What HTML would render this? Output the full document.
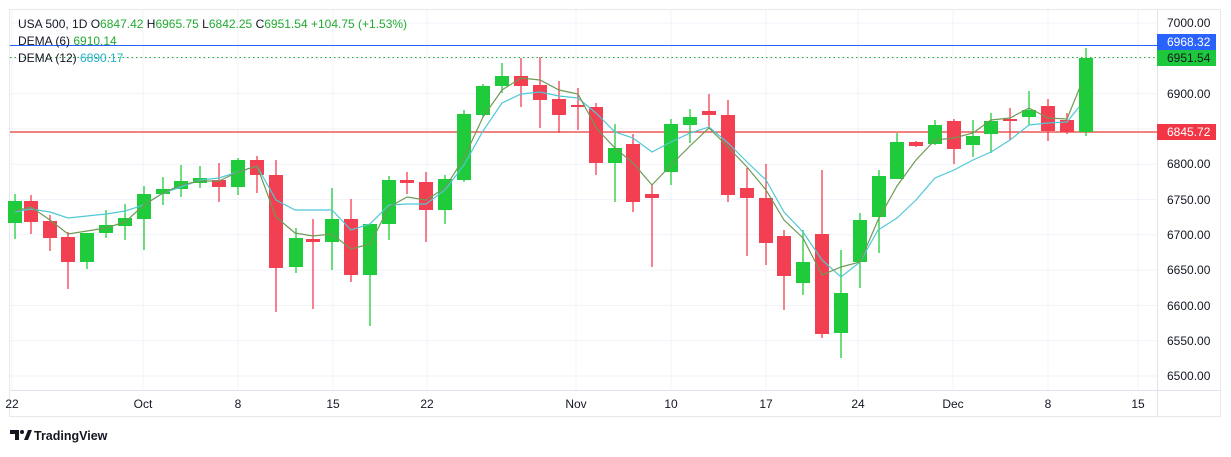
<!DOCTYPE html>
<html><head><meta charset="utf-8"><style>
body{margin:0;background:#fff;font-family:"Liberation Sans",sans-serif;}
svg text{font-family:"Liberation Sans",sans-serif;}
</style></head><body>
<svg width="1231" height="452" xmlns="http://www.w3.org/2000/svg">
<rect x="0" y="0" width="1231" height="452" fill="#fff"/>
<rect x="9.5" y="9.5" width="1211" height="407" fill="none" stroke="#e6e8ee"/>
<g stroke="#f0f3fa" stroke-width="1">
<line x1="10" x2="1157" y1="23" y2="23"/><line x1="10" x2="1157" y1="58.3" y2="58.3"/><line x1="10" x2="1157" y1="93.6" y2="93.6"/><line x1="10" x2="1157" y1="128.9" y2="128.9"/><line x1="10" x2="1157" y1="164.2" y2="164.2"/><line x1="10" x2="1157" y1="199.5" y2="199.5"/><line x1="10" x2="1157" y1="234.8" y2="234.8"/><line x1="10" x2="1157" y1="270.1" y2="270.1"/><line x1="10" x2="1157" y1="305.4" y2="305.4"/><line x1="10" x2="1157" y1="340.7" y2="340.7"/><line x1="10" x2="1157" y1="376" y2="376"/>
<line x1="12" x2="12" y1="10" y2="390"/><line x1="143" x2="143" y1="10" y2="390"/><line x1="238" x2="238" y1="10" y2="390"/><line x1="333" x2="333" y1="10" y2="390"/><line x1="427" x2="427" y1="10" y2="390"/><line x1="576" x2="576" y1="10" y2="390"/><line x1="671" x2="671" y1="10" y2="390"/><line x1="766" x2="766" y1="10" y2="390"/><line x1="858" x2="858" y1="10" y2="390"/><line x1="953" x2="953" y1="10" y2="390"/><line x1="1048" x2="1048" y1="10" y2="390"/><line x1="1138" x2="1138" y1="10" y2="390"/>
</g>
<line x1="10" x2="1221" y1="390.5" y2="390.5" stroke="#e0e3eb"/>
<line x1="1157.5" x2="1157.5" y1="10" y2="417" stroke="#e0e3eb"/>
<line x1="10" x2="1157" y1="45.5" y2="45.5" stroke="#2962ff" shape-rendering="crispEdges"/>
<line x1="10" x2="1157" y1="57.5" y2="57.5" stroke="#22ab30" stroke-dasharray="1.5 3"/>
<line x1="10" x2="1157" y1="132" y2="132" stroke="#e53935" stroke-width="1.2"/>
<g id="c"></g>
<polyline fill="none" stroke="#4fc8d6" stroke-width="1.2" points="15,212 31,209 50,212 68,218 87,216 106,214 125,211 144,205 163,193 181,187 200,180 219,178 238,172 257,166 276,200 295,210 313,210 332,210 351,230 370,224 389,205 407,204 426,204 445,190 464,165 483,131 502,103 521,94 540,92 559,96 578,98 597,114 615,132 633,138 652,152 671,142 690,133 709,127 728,143 747,162 766,180 784,212 803,232 822,260 841,277 860,262 878,230 897,218 916,200 935,178 954,170 973,160 991,152 1010,140 1029,125 1048,123 1067,122 1079,107"/>
<polyline fill="none" stroke="#6f9a55" stroke-width="1.2" points="15,211 31,207 50,220 68,234 87,231 106,228 125,222 144,205 163,193 181,185 200,181 219,181 238,172 257,166 276,217 295,233 313,236 332,234 351,249 370,244 389,207 407,197 426,200 445,188 464,158 483,117 502,90 521,78 540,80 559,90 578,94 597,129 615,148 633,163 652,185 671,165 690,146 709,128 728,147 747,167 766,190 784,220 803,238 822,275 841,267 860,262 878,220 897,186 916,160 935,140 954,138 973,133 991,120 1010,118 1029,108 1048,118 1067,119 1080,87"/>
<g font-size="12" fill="#131722">
<text x="12" y="408" text-anchor="middle">22</text><text x="143" y="408" text-anchor="middle">Oct</text><text x="238" y="408" text-anchor="middle">8</text><text x="333" y="408" text-anchor="middle">15</text><text x="427" y="408" text-anchor="middle">22</text><text x="576" y="408" text-anchor="middle">Nov</text><text x="671" y="408" text-anchor="middle">10</text><text x="766" y="408" text-anchor="middle">17</text><text x="858" y="408" text-anchor="middle">24</text><text x="953" y="408" text-anchor="middle">Dec</text><text x="1048" y="408" text-anchor="middle">8</text><text x="1138" y="408" text-anchor="middle">15</text>
<text x="1167" y="27">7000.00</text><text x="1167" y="98">6900.00</text><text x="1167" y="168">6800.00</text><text x="1167" y="204">6750.00</text><text x="1167" y="239">6700.00</text><text x="1167" y="274">6650.00</text><text x="1167" y="310">6600.00</text><text x="1167" y="345">6550.00</text><text x="1167" y="380">6500.00</text>
</g>
<rect x="1157" y="34" width="59" height="16" fill="#2962ff"/><text x="1167" y="46" font-size="12" fill="#fff">6968.32</text>
<rect x="1157" y="50" width="59" height="16" fill="#1ec83c"/><text x="1167" y="62" font-size="12" fill="#131722">6951.54</text>
<rect x="1157" y="124" width="59" height="16" fill="#f23645"/><text x="1167" y="136" font-size="12" fill="#fff">6845.72</text>
<text x="18" y="28" font-size="12" fill="#131722">USA 500, 1D  O<tspan fill="#22ab30">6847.42</tspan>  H<tspan fill="#22ab30">6965.75</tspan>  L<tspan fill="#22ab30">6842.25</tspan>  C<tspan fill="#22ab30">6951.54</tspan>  <tspan fill="#22ab30">+104.75 (+1.53%)</tspan></text>
<text x="18" y="45" font-size="12" fill="#131722">DEMA (6)  <tspan fill="#22ab30">6910.14</tspan></text>
<text x="18" y="62" font-size="12" fill="#131722">DEMA (12)  <tspan fill="#26b3c9">6890.17</tspan></text>
<g fill="#131722"><path d="M10 430h9v10h-4v-6h-5z"/><circle cx="22" cy="432" r="2"/><path d="M24 440l4-10h4l-4 10z"/></g>
<text x="34" y="440" font-size="12.5" font-weight="bold" fill="#131722">TradingView</text>
</svg>
<script>
var d=[[15,'g',201,223,194,239],[31,'r',201,222,195,234],[50,'r',221,238,215,251],[68,'r',237,262,232,289],[87,'g',233,262,233,269],[106,'g',225,233,210,238],[125,'g',218,226,204,240],[144,'g',194,219,186,250],[163,'g',189,194,177,205],[181,'g',181,189,165,197],[200,'g',178,183,166,188],[219,'r',180,187,163,202],[238,'g',160,187,158,195],[257,'r',160,175,156,193],[276,'r',175,268,160,312],[296,'g',238,267,228,273],[313,'r',239,242,219,309],[332,'g',219,242,188,270],[351,'r',219,275,199,282],[370,'g',224,275,225,326],[389,'g',180,224,176,240],[407,'r',180,183,172,194],[426,'r',182,210,172,242],[445,'g',179,210,175,224],[464,'g',114,180,110,182],[483,'g',86,115,84,117],[502,'g',76,86,63,93],[521,'r',76,86,58,107],[540,'r',85,100,57,128],[559,'r',99,115,81,133],[578,'r',105,107,88,130],[596,'r',107,163,103,175],[615,'g',148,163,124,202],[633,'r',144,202,134,212],[652,'r',194,198,185,267],[671,'g',124,172,119,185],[690,'g',117,125,109,143],[709,'r',111,115,94,129],[728,'r',115,195,100,202],[747,'r',188,198,168,256],[766,'r',198,243,164,265],[784,'r',236,276,230,310],[803,'g',262,283,230,295],[822,'r',234,334,170,338],[841,'g',293,333,250,358],[860,'g',220,262,213,288],[879,'g',176,217,170,253],[897,'g',142,179,133,179],[916,'r',142,146,141,147],[935,'g',125,144,120,145],[954,'r',121,149,119,164],[973,'g',136,145,120,157],[991,'g',121,134,113,153],[1010,'r',119,121,108,140],[1029,'g',110,117,91,125],[1048,'r',106,131,99,141],[1067,'r',120,132,113,134],[1086,'g',58,132,48,136]];
var s='';d.forEach(function(c){var col=c[1]=='g'?'#1fcb3a':'#f23f52';s+='<line x1="'+c[0]+'" x2="'+c[0]+'" y1="'+c[4]+'" y2="'+c[5]+'" stroke="'+col+'" stroke-width="1.3"/><rect x="'+(c[0]-7)+'" y="'+c[2]+'" width="14" height="'+Math.max(2,c[3]-c[2])+'" fill="'+col+'"/>';});
document.getElementById('c').innerHTML=s;
</script>
</body></html>
